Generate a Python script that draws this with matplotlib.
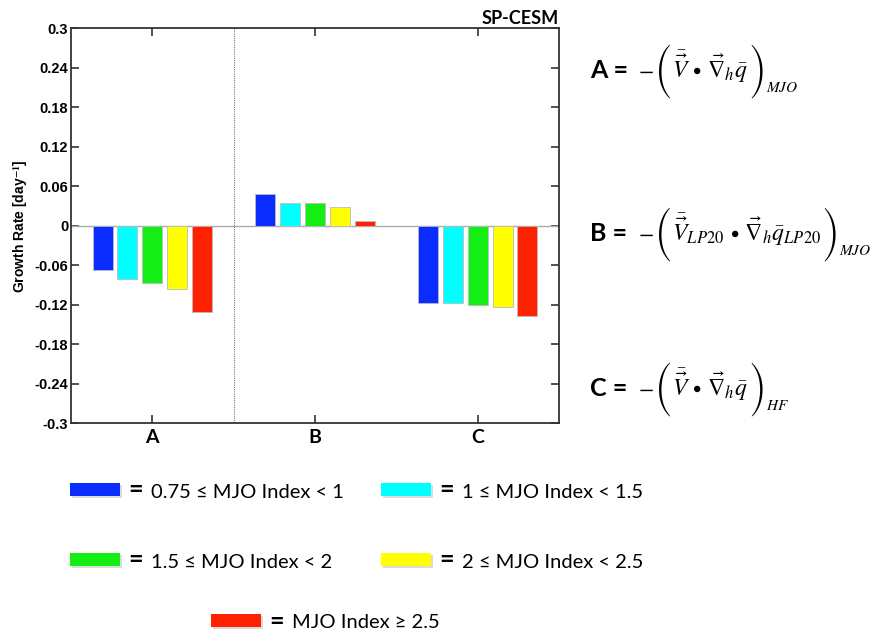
import numpy as np
import matplotlib
matplotlib.use('Agg')
import matplotlib.pyplot as plt
from matplotlib.patches import Rectangle

plt.rcParams['mathtext.fontset'] = 'stix'

# data
terms = ['A', 'B', 'C']
bins = ['0.75 ≤ MJO Index < 1', '1 ≤ MJO Index < 1.5', '1.5 ≤ MJO Index < 2',
        '2 ≤ MJO Index < 2.5', 'MJO Index ≥ 2.5']
colors = ['#0a2cff', '#00ffff', '#14ee14', '#ffff00', '#ff2200']
rate_A = [-0.067, -0.0815, -0.0865, -0.0957, -0.131]
rate_B = [0.0486, 0.035, 0.034, 0.028, 0.007]
rate_C = [-0.1175, -0.1175, -0.1205, -0.124, -0.1377]
yticks = [-0.3, -0.24, -0.18, -0.12, -0.06, 0, 0.06, 0.12, 0.18, 0.24, 0.3]

W, H = 882, 634
fig = plt.figure(figsize=(W / 100, H / 100), dpi=100)
renderer = fig.canvas.get_renderer()

def fx(px):
    return px / W

def fy(py):
    return 1 - py / H

ax = fig.add_axes([fx(71), fy(423.3), fx(559) - fx(71), fy(28.3) - fy(423.3)])

x = np.arange(1, 4)
rates = np.array([rate_A, rate_B, rate_C])
step = 0.153
for i in range(5):
    ax.bar(x + (i - 2) * step, rates[:, i], width=0.123, color=colors[i],
           edgecolor='#bbbbbb', linewidth=0.6, zorder=3)

ax.axhline(0, color='#aaaaaa', lw=1.0, zorder=2)
ax.axvline(1.5, color='#777777', lw=0.8, ls=(0, (1, 1)), zorder=2)

ax.set_xlim(0.5, 3.5)
ax.set_ylim(-0.3, 0.3)
ax.set_yticks(yticks)
ax.set_yticklabels(['%g' % v for v in yticks], fontweight='bold',
                   fontfamily='Liberation Sans', fontsize=10.5)
ax.set_xticks(x)
ax.set_xticklabels(terms, fontweight='bold', fontfamily='Lato', fontsize=14)
ax.tick_params(direction='in', top=True, right=True, length=6, width=1.2,
               color='#333333', pad=2)
ax.tick_params(axis='x', pad=4)
for s in ax.spines.values():
    s.set_linewidth(1.3)
    s.set_color('#333333')

ax.set_ylabel('Growth Rate [day$^{\\mathbf{-1}}$]', fontweight='bold',
              fontfamily='Liberation Sans', fontsize=10, labelpad=3)
ax.set_title('SP-CESM', loc='right', fontweight='bold', fontfamily='Lato',
             fontsize=13, pad=3)

# equations, built piece by piece so the brackets can be tall
def piece(s, xp, yp, size, va='baseline', family=None):
    t = fig.text(fx(xp), fy(yp), s, fontsize=size, va=va, ha='left')
    if family:
        t.set_fontfamily(family)
    return xp + t.get_window_extent(renderer).width

eqs = [
    ('A =', r'$\bar{\vec{V}}\,\bullet\,\vec{\nabla}_h\bar{q}$', 'MJO', 78),
    ('B =', r'$\bar{\vec{V}}_{LP20}\,\bullet\,\vec{\nabla}_h\bar{q}_{LP20}$', 'MJO', 241),
    ('C =', r'$\bar{\vec{V}}\,\bullet\,\vec{\nabla}_h\bar{q}$', 'HF', 396),
]
for lab, inner, sub, yb in eqs:
    fig.text(fx(590), fy(yb), lab, fontfamily='Lato', fontweight='bold',
             fontsize=18, va='baseline', ha='left')
    xp = piece(r'$-$', 638, yb - 1, 16)
    xp = piece('(', xp + 1, yb - 6, 16, va='center', family='STIXSizeThreeSym')
    xp = piece(inner, xp + 1, yb, 17)
    xp = piece(')', xp + 1, yb - 6, 16, va='center', family='STIXSizeThreeSym')
    piece(r'$\mathit{%s}$' % sub, xp, yb + 14, 11)

# legend
legend_pos = [(70, 489), (381, 489), (70, 559), (381, 559), (211, 620)]
for (px, py), c, lab in zip(legend_pos, colors, bins):
    fig.add_artist(Rectangle((fx(px + 2), fy(py + 9)), fx(50), fy(0) - fy(13),
                             transform=fig.transFigure, color='#999999',
                             alpha=0.35, lw=0))
    fig.add_artist(Rectangle((fx(px), fy(py + 6.5)), fx(50), fy(0) - fy(13),
                             transform=fig.transFigure, color=c, lw=0))
    fig.text(fx(px + 58), fy(py + 1), '=', fontfamily='Lato', fontweight='bold',
             fontsize=18, va='center', ha='left')
    fig.text(fx(px + 81), fy(py + 3), lab, fontfamily='Lato', fontsize=14.5,
             va='center', ha='left')

fig.savefig('out.png', dpi=100)
